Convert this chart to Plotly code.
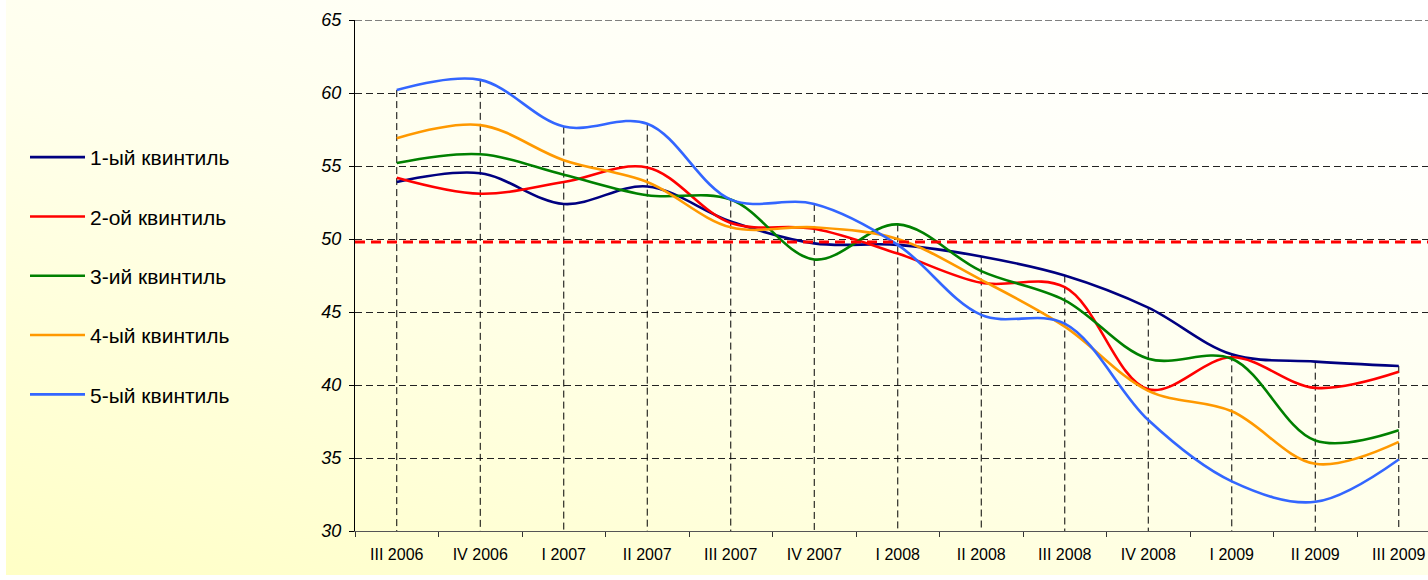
import base64
import plotly.graph_objects as go

# Quarters on the horizontal axis
quarters = ["III 2006", "IV 2006", "I 2007", "II 2007", "III 2007", "IV 2007",
            "I 2008", "II 2008", "III 2008", "IV 2008", "I 2009", "II 2009", "III 2009"]

# Index values by income quintile
q1 = [53.9, 54.5, 52.4, 53.6, 51.2, 49.7, 49.6, 48.8, 47.5, 45.3, 42.1, 41.6, 41.3]
q2 = [54.2, 53.1, 53.9, 54.9, 51.1, 50.7, 49.0, 47.0, 46.7, 39.7, 41.9, 39.8, 40.9]
q3 = [55.2, 55.8, 54.4, 53.0, 52.7, 48.6, 51.0, 47.8, 45.8, 41.8, 41.8, 36.2, 36.9]
q4 = [56.9, 57.8, 55.4, 53.9, 50.8, 50.8, 50.0, 47.2, 44.0, 39.6, 38.2, 34.6, 36.1]
q5 = [60.2, 60.9, 57.7, 57.9, 52.7, 52.4, 49.6, 44.8, 44.2, 37.6, 33.4, 32.0, 34.9]

names = ["1-ый квинтиль", "2-ой квинтиль", "3-ий квинтиль", "4-ый квинтиль", "5-ый квинтиль"]
colors = ["#000080", "#FF0000", "#008000", "#FF9900", "#3366FF"]

threshold = 49.8
y_min, y_max = 30, 65

FONT = "Arial, 'Liberation Sans', sans-serif"

series = [q1, q2, q3, q4, q5]

fig = go.Figure()

# Drop lines from the highest series value down to the axis
drop_x, drop_y = [], []
for i, q in enumerate(quarters):
    top = max(s[i] for s in series)
    drop_x += [q, q, None]
    drop_y += [top, y_min, None]
fig.add_trace(go.Scatter(
    x=drop_x, y=drop_y, mode="lines", showlegend=False, hoverinfo="skip",
    line=dict(color="black", width=1, dash="7px,4px"),
))

for name, col, vals in zip(names, colors, series):
    fig.add_trace(go.Scatter(
        x=quarters, y=vals, name=name, mode="lines",
        legendgroup=name,
        line=dict(color=col, width=2.6, shape="spline", smoothing=1.0),
    ))

# Top border of the plot area
fig.add_shape(type="line", xref="x domain", x0=0, x1=1, yref="y",
              y0=y_max, y1=y_max, layer="below",
              line=dict(color="#555555", width=1.6, dash="7px,3px"))

# Reference level
fig.add_shape(type="line", xref="x domain", x0=0, x1=1, yref="y",
              y0=threshold, y1=threshold,
              line=dict(color="#FF0000", width=3, dash="10px,6px"))

# Soft diagonal background wash
svg = (
    '<svg xmlns="http://www.w3.org/2000/svg" width="100" height="100" preserveAspectRatio="none">'
    '<defs><linearGradient id="g" x1="0" y1="1" x2="0.75" y2="0">'
    '<stop offset="0" stop-color="#FFFFC6"/>'
    '<stop offset="0.55" stop-color="#FFFFEC"/>'
    '<stop offset="1" stop-color="#FFFFFF"/>'
    '</linearGradient></defs>'
    '<rect width="100" height="100" fill="url(#g)"/></svg>'
)
src = "data:image/svg+xml;base64," + base64.b64encode(svg.encode()).decode()

W, H = 1428, 580
left, top, bottom = 355, 20, 531
pw, ph = W - left, bottom - top
fig.add_layout_image(
    source=src, xref="paper", yref="paper",
    x=(6 - left) / pw, y=(bottom - 0) / ph,
    sizex=(W - 6) / pw, sizey=575 / ph,
    sizing="stretch", layer="below", xanchor="left", yanchor="top",
)

fig.update_layout(
    width=W, height=H,
    margin=dict(l=left, r=0, t=top, b=H - bottom),
    paper_bgcolor="white",
    plot_bgcolor="rgba(0,0,0,0)",
    font=dict(family=FONT, color="black"),
    showlegend=True,
    legend=dict(
        xref="container", yref="container",
        x=25 / W, y=1 - 137 / H, xanchor="left", yanchor="top",
        font=dict(size=21, family=FONT, color="black"),
        bgcolor="rgba(0,0,0,0)",
        tracegroupgap=29,
        itemwidth=55,
    ),
    xaxis=dict(
        type="category", range=[-0.5, 12.35],
        showgrid=False, tickson="boundaries",
        ticks="outside", ticklen=5, tickcolor="#333",
        showline=True, linecolor="#555", linewidth=1,
        tickfont=dict(size=16, family=FONT),
        ticklabelstandoff=9,
        fixedrange=True,
    ),
    yaxis=dict(
        range=[y_min, y_max], dtick=5,
        showgrid=True, gridcolor="#222", griddash="7px,4px", gridwidth=1,
        ticks="outside", ticklen=5, tickcolor="black",
        showline=True, linecolor="black", linewidth=1,
        tickfont=dict(size=18, family=FONT, style="italic"),
        ticklabelstandoff=4,
        zeroline=False,
    ),
)

fig.write_html("out.html")
